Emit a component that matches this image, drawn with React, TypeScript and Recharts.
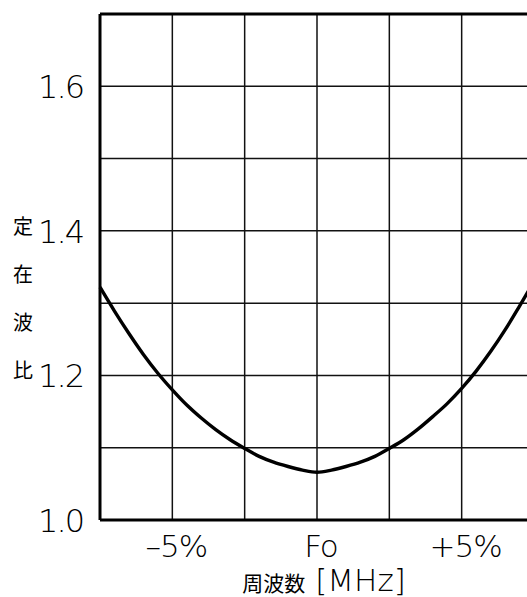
import { LineChart, Line, XAxis, YAxis, CartesianGrid, ReferenceLine } from "recharts";

// frequency offset from Fo, in %
const offsets = [
  -7.5, -7, -6.5, -6, -5.5, -5, -4.5, -4, -3.5, -3, -2.5, -2, -1.5, -1, -0.5, 0,
  0.5, 1, 1.5, 2, 2.5, 3, 3.5, 4, 4.5, 5, 5.5, 6, 6.5, 7, 7.5,
];
// standing wave ratio
const vswr = [
  1.322, 1.289, 1.258, 1.229, 1.203, 1.18, 1.159, 1.141, 1.125, 1.111, 1.099, 1.088,
  1.08, 1.074, 1.069, 1.066, 1.069, 1.074, 1.08, 1.088, 1.099, 1.111, 1.126, 1.143,
  1.161, 1.182, 1.206, 1.233, 1.263, 1.296, 1.33,
];

const xTicks = [-7.5, -5, -2.5, 0, 2.5, 5, 7.5];
const xLabels: Record<string, string> = { "-5": "–5%", "0": "Fo", "5": "+5%" };
const yTicks = [1.0, 1.1, 1.2, 1.3, 1.4, 1.5, 1.6, 1.7];
const yLabels: Record<string, string> = { "1": "1.0", "1.2": "1.2", "1.4": "1.4", "1.6": "1.6" };
const yTitle = ["定", "在", "波", "比"];
const xTitle = "周波数";
const xUnit = "[MHz]";

const data = offsets.map((x, i) => ({ x, v: vswr[i] }));

const LATIN = "'DejaVu Sans', sans-serif";
const CJK = "'Noto Sans CJK JP', sans-serif";

function XTick({ x, y, payload }: any) {
  const label = xLabels[String(payload.value)];
  if (!label) return null;
  return (
    <text x={x + 4} y={y + 29} textAnchor="middle" fontFamily={LATIN} fontWeight={200} fontSize={31} letterSpacing={-1} fill="#000">
      {label}
    </text>
  );
}

function YTick({ y, payload }: any) {
  const label = yLabels[String(Math.round(payload.value * 10) / 10)];
  if (!label) return null;
  return (
    <text x={83} y={y + 12} textAnchor="end" fontFamily={LATIN} fontWeight={200} fontSize={32} letterSpacing={-2} fill="#000">
      {label}
    </text>
  );
}

export default function App() {
  return (
    <div style={{ position: "fixed", left: 0, top: 0, width: 527, height: 597, overflow: "hidden", background: "#fff" }}>
      <LineChart width={560} height={597} data={data} margin={{ top: 14, right: 26, bottom: 0, left: 0 }}>
        <CartesianGrid stroke="#111" strokeWidth={1.5} horizontalValues={yTicks} verticalValues={xTicks} />
        <XAxis
          dataKey="x"
          type="number"
          domain={[-7.5, 7.5]}
          ticks={xTicks}
          height={77}
          tickLine={false}
          axisLine={{ stroke: "#000", strokeWidth: 3 }}
          tick={<XTick />}
        />
        <YAxis
          type="number"
          domain={[1.0, 1.7]}
          ticks={yTicks}
          width={100}
          tickLine={false}
          axisLine={{ stroke: "#000", strokeWidth: 3 }}
          tick={<YTick />}
        />
        <ReferenceLine y={1.7} stroke="#000" strokeWidth={3} />
        <ReferenceLine x={7.5} stroke="#000" strokeWidth={3} />
        <Line type="monotone" dataKey="v" stroke="#000" strokeWidth={3.4} dot={false} isAnimationActive={false} />
        {yTitle.map((ch, i) => (
          <text key={ch} x={23} y={234 + i * 48} textAnchor="middle" fontFamily={CJK} fontSize={20} fill="#000">
            {ch}
          </text>
        ))}
        <text x={324} y={591} textAnchor="middle" fill="#000">
          <tspan fontFamily={CJK} fontSize={21}>{xTitle}</tspan>
          <tspan dx={10} fontFamily={LATIN} fontWeight={200} fontSize={31}>{xUnit}</tspan>
        </text>
      </LineChart>
    </div>
  );
}
